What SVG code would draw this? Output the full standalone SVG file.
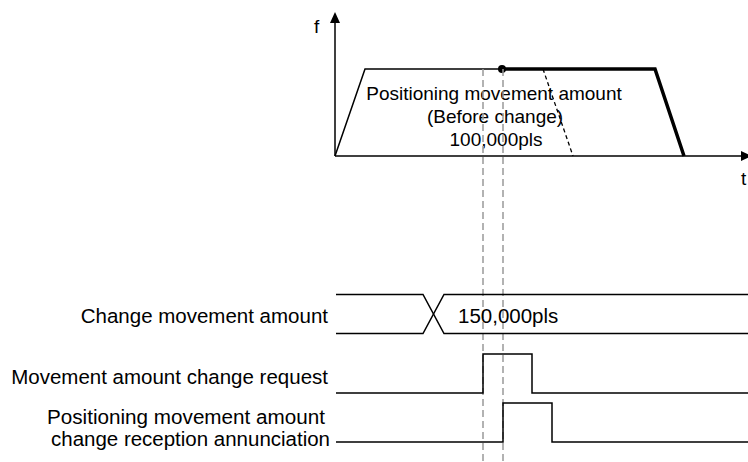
<svg xmlns="http://www.w3.org/2000/svg" width="748" height="462" viewBox="0 0 748 462">
<style>
  text { font-family: "Liberation Sans", Arial, sans-serif; fill: #000; }
  .lbl { font-size: 20.5px; text-anchor: end; }
  .lbl2 { font-size: 20px; text-anchor: end; }
  .top { font-size: 19px; text-anchor: middle; }
  .ln { fill: none; stroke: #000; stroke-width: 1.5; }
  .thick { fill: none; stroke: #000; stroke-width: 3.5; }
  .guide { fill: none; stroke: #999; stroke-width: 1.5; stroke-dasharray: 7 4; }
  .blkdash { fill: none; stroke: #000; stroke-width: 1.3; stroke-dasharray: 4 3; }
</style>
<rect width="748" height="462" fill="#fff"/>
<g id="axes">
  <line class="ln" x1="335" y1="156" x2="335" y2="20"/>
  <polygon points="335,12 330,23 340,23" fill="#000"/>
  <line class="ln" x1="335" y1="156" x2="744" y2="156"/>
  <polygon points="752,156 741,151 741,161" fill="#000"/>
  <text x="314" y="33" style="font-size:19px">f</text>
  <text x="741" y="185" style="font-size:19px">t</text>
</g>
<g id="profile">
  <polyline class="ln" points="335,156 365,69 502,69"/>
  <polyline class="thick" points="502,69 655,69 684,156"/>
  <circle cx="502" cy="69" r="4" fill="#000"/>
  <line class="blkdash" x1="543" y1="69" x2="573" y2="156"/>
  <text class="top" x="494" y="100">Positioning movement amount</text>
  <text class="top" x="495" y="123">(Before change)</text>
  <text class="top" x="496" y="146">100,000pls</text>
</g>
<g id="connectors">
  <line class="guide" x1="483" y1="69" x2="483" y2="462"/>
  <line class="guide" x1="503" y1="69" x2="503" y2="462"/>
</g>
<g id="change-movement-amount">
  <text class="lbl" x="328" y="323">Change movement amount</text>
  <polyline class="ln" points="336,294.5 423,294.5 444,333.5 748,333.5"/>
  <polyline class="ln" points="336,333.5 423,333.5 444,294.5 748,294.5"/>
  <text x="458" y="322.5" style="font-size:20.5px">150,000pls</text>
</g>
<g id="change-request">
  <text class="lbl" x="328" y="384">Movement amount change request</text>
  <polyline class="ln" points="336,393 483,393 483,354 532,354 532,393 748,393"/>
</g>
<g id="reception-annunciation">
  <text class="lbl2" x="325" y="423.5" textLength="278" lengthAdjust="spacingAndGlyphs">Positioning movement amount</text>
  <text class="lbl2" x="330" y="446" textLength="279" lengthAdjust="spacingAndGlyphs">change reception annunciation</text>
  <polyline class="ln" points="336,442 503,442 503,403 552,403 552,442 748,442"/>
</g>
</svg>
